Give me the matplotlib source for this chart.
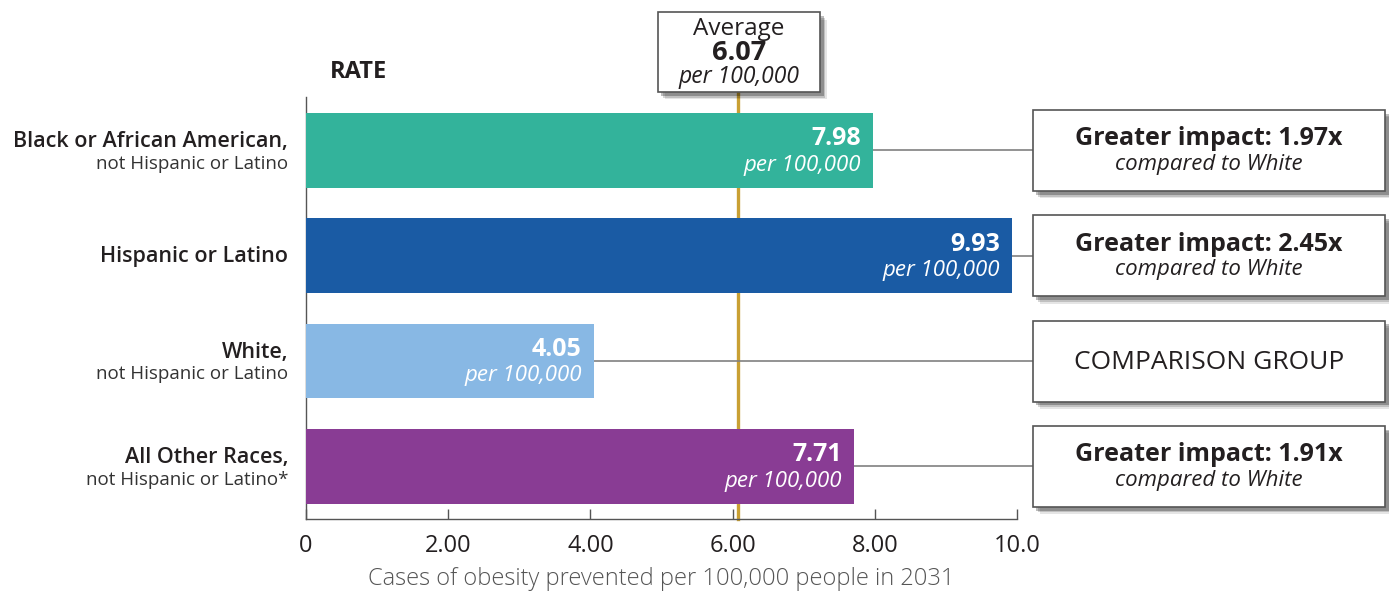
import numpy as np
import matplotlib
matplotlib.use("Agg")
from matplotlib import pyplot as plt
from matplotlib.patches import Rectangle

# data
groups = ["Black or African American,", "Hispanic or Latino", "White,", "All Other Races,"]
subtitles = ["not Hispanic or Latino", "", "not Hispanic or Latino", "not Hispanic or Latino*"]
rates = [7.98, 9.93, 4.05, 7.71]
impact = ["1.97x", "2.45x", None, "1.91x"]
average = 6.07
colors = ["#33B39B", "#1A5BA4", "#88B8E4", "#893C94"]
xticks = [0, 2, 4, 6, 8, 10]
xticklabels = ["0", "2.00", "4.00", "6.00", "8.00", "10.0"]

plt.rcParams['font.family'] = ['Open Sans', 'DejaVu Sans']
dark = "#231F20"

fig = plt.figure(figsize=(13.89, 5.93), dpi=100)
ax = fig.add_axes([306/1389, 74/593, 711/1389, 422/593])

y = np.arange(len(groups))
ax.barh(y, rates, height=0.71, color=colors, zorder=3)
ax.set_xlim(0, 10)
ax.set_ylim(3.5, -0.508)

for s in ["top", "right"]:
    ax.spines[s].set_visible(False)
for s in ["left", "bottom"]:
    ax.spines[s].set_color("#555555")
    ax.spines[s].set_linewidth(1.0)
ax.set_yticks([])
ax.set_xticks(xticks)
ax.set_xticklabels(xticklabels, fontsize=17, color=dark, fontweight="medium")
ax.tick_params(axis="x", direction="in", length=7, width=1, color="#555555", pad=11)
ax.set_xlabel("Cases of obesity prevented per 100,000 people in 2031",
              fontsize=17, color="#555555", labelpad=6, fontweight="light")

def box(x0, y0, w, h, z=5):
    # soft shadow
    for i, a in enumerate([0.10, 0.16, 0.26]):
        off = 0.035 + 0.018 * (2 - i)
        ax.add_patch(Rectangle((x0 + off * 1.4, y0 + off), w, h, facecolor="#000000",
                               alpha=a, edgecolor="none", clip_on=False, zorder=z))
    ax.add_patch(Rectangle((x0, y0), w, h, facecolor="white", edgecolor="#555555",
                           linewidth=1.2, clip_on=False, zorder=z + 1))

# average line and box
bx0, bx1 = 4.95, 7.23
btop, bbot = -1.315, -0.556
ax.plot([average, average], [bbot, 3.5], color="#C9A033", lw=2.4, clip_on=False, zorder=2)
box(bx0, btop, bx1 - bx0, bbot - btop)
cx = (bx0 + bx1) / 2
ax.text(cx, -1.15, "Average", ha="center", va="center", fontsize=17.5, color=dark, zorder=8, clip_on=False)
ax.text(cx, -0.93, "%.2f" % average, ha="center", va="center", fontsize=19.5, fontweight="bold", color=dark, zorder=8, clip_on=False)
ax.text(cx, -0.70, "per 100,000", ha="center", va="center", fontsize=16.5, style="italic", color=dark, zorder=8, clip_on=False)

ax.text(0.34, -0.745, "RATE", ha="left", va="center", fontsize=17, fontweight="bold", color=dark, clip_on=False)

rx0, rx1 = 10.22, 15.18
for i, (g, sub, r, imp) in enumerate(zip(groups, subtitles, rates, impact)):
    # left labels
    if sub:
        ax.text(-0.25, i - 0.085, g, ha="right", va="center", fontsize=15.5, fontweight="semibold", color=dark, clip_on=False)
        ax.text(-0.25, i + 0.125, sub, ha="right", va="center", fontsize=13.5, color="#333333", clip_on=False)
    else:
        ax.text(-0.25, i + 0.01, g, ha="right", va="center", fontsize=15.5, fontweight="semibold", color=dark, clip_on=False)
    # values in bars
    ax.text(r - 0.17, i - 0.11, "%.2f" % r, ha="right", va="center", fontsize=18, fontweight="bold", color="white", zorder=4)
    ax.text(r - 0.17, i + 0.14, "per 100,000", ha="right", va="center", fontsize=16, style="italic", color="white", zorder=4)
    # connector
    ax.plot([r, rx0], [i, i], color="#808080", lw=1.2, clip_on=False, zorder=2.5)
    # right box
    box(rx0, i - 0.385, rx1 - rx0, 0.77)
    rcx = (rx0 + rx1) / 2
    if imp:
        ax.text(rcx, i - 0.11, "Greater impact: " + imp, ha="center", va="center", fontsize=18,
                fontweight="bold", color=dark, zorder=8, clip_on=False)
        ax.text(rcx, i + 0.135, "compared to White", ha="center", va="center", fontsize=16,
                style="italic", color=dark, zorder=8, clip_on=False)
    else:
        ax.text(rcx, i + 0.01, "COMPARISON GROUP", ha="center", va="center", fontsize=19,
                color=dark, zorder=8, clip_on=False)

fig.savefig("out.png", dpi=100)
